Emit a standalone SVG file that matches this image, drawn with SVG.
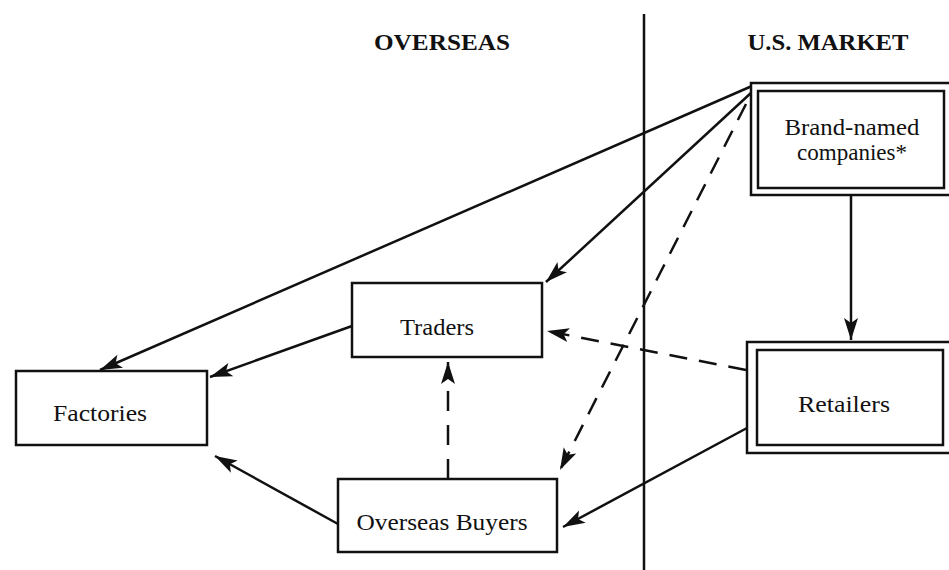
<svg xmlns="http://www.w3.org/2000/svg" width="949" height="570" viewBox="0 0 949 570">
<defs>
<marker id="ah" markerUnits="userSpaceOnUse" markerWidth="24" markerHeight="16" refX="22" refY="8" orient="auto">
<path d="M0,1 L22,8 L0,15 L5,8 Z" fill="#111"/>
</marker>
<style>
.box{fill:#fff;stroke:#111;stroke-width:2.5}
.lbl{font-family:"Liberation Serif","Times New Roman",serif;font-size:24px;fill:#111;text-anchor:middle}
.hdr{font-family:"Liberation Serif","Times New Roman",serif;font-size:23px;font-weight:bold;fill:#111;text-anchor:middle}
.ln{stroke:#111;stroke-width:2.5;fill:none}
.dash{stroke-dasharray:18 12}
</style>
</defs>
<rect width="949" height="570" fill="#fff"/>
<g id="headers">
<text class="hdr" x="442" y="50" textLength="136" lengthAdjust="spacingAndGlyphs">OVERSEAS</text>
<text class="hdr" x="828" y="50" textLength="161" lengthAdjust="spacingAndGlyphs">U.S. MARKET</text>
<line class="ln" x1="644" y1="14" x2="644" y2="570"/>
</g>
<g id="connectors">
<line class="ln" x1="752" y1="86" x2="100" y2="370" marker-end="url(#ah)"/>
<line class="ln" x1="752" y1="92" x2="546" y2="282" marker-end="url(#ah)"/>
<line class="ln dash" x1="746" y1="104" x2="560" y2="470" marker-end="url(#ah)"/>
<line class="ln" x1="851" y1="196" x2="851" y2="340" marker-end="url(#ah)"/>
<line class="ln dash" x1="746" y1="370" x2="547" y2="331" marker-end="url(#ah)"/>
<line class="ln" x1="747" y1="428" x2="563" y2="527" marker-end="url(#ah)"/>
<line class="ln" x1="352" y1="326" x2="210" y2="377" marker-end="url(#ah)"/>
<line class="ln" x1="338" y1="524" x2="215" y2="456" marker-end="url(#ah)"/>
<line class="ln dash" x1="448" y1="479" x2="448" y2="362" marker-end="url(#ah)" style="stroke-dasharray:20 14"/>
</g>
<g id="brand">
<rect class="box" x="751" y="83" width="200" height="112"/>
<rect class="box" x="758" y="91" width="186" height="97"/>
<text class="lbl" x="852" y="135" textLength="135" lengthAdjust="spacingAndGlyphs">Brand-named</text>
<text class="lbl" x="852" y="160" textLength="110" lengthAdjust="spacingAndGlyphs">companies*</text>
</g>
<g id="retailers">
<rect class="box" x="747" y="342" width="204" height="111"/>
<rect class="box" x="757" y="350" width="186" height="95"/>
<text class="lbl" x="844" y="412" textLength="92" lengthAdjust="spacingAndGlyphs">Retailers</text>
</g>
<g id="factories">
<rect class="box" x="16" y="371" width="191" height="74"/>
<text class="lbl" x="100" y="421" textLength="94" lengthAdjust="spacingAndGlyphs">Factories</text>
</g>
<g id="traders">
<rect class="box" x="352" y="283" width="190" height="74"/>
<text class="lbl" x="437" y="335" textLength="74" lengthAdjust="spacingAndGlyphs">Traders</text>
</g>
<g id="buyers">
<rect class="box" x="338" y="479" width="219" height="73"/>
<text class="lbl" x="442" y="530" textLength="171" lengthAdjust="spacingAndGlyphs">Overseas Buyers</text>
</g>
</svg>
